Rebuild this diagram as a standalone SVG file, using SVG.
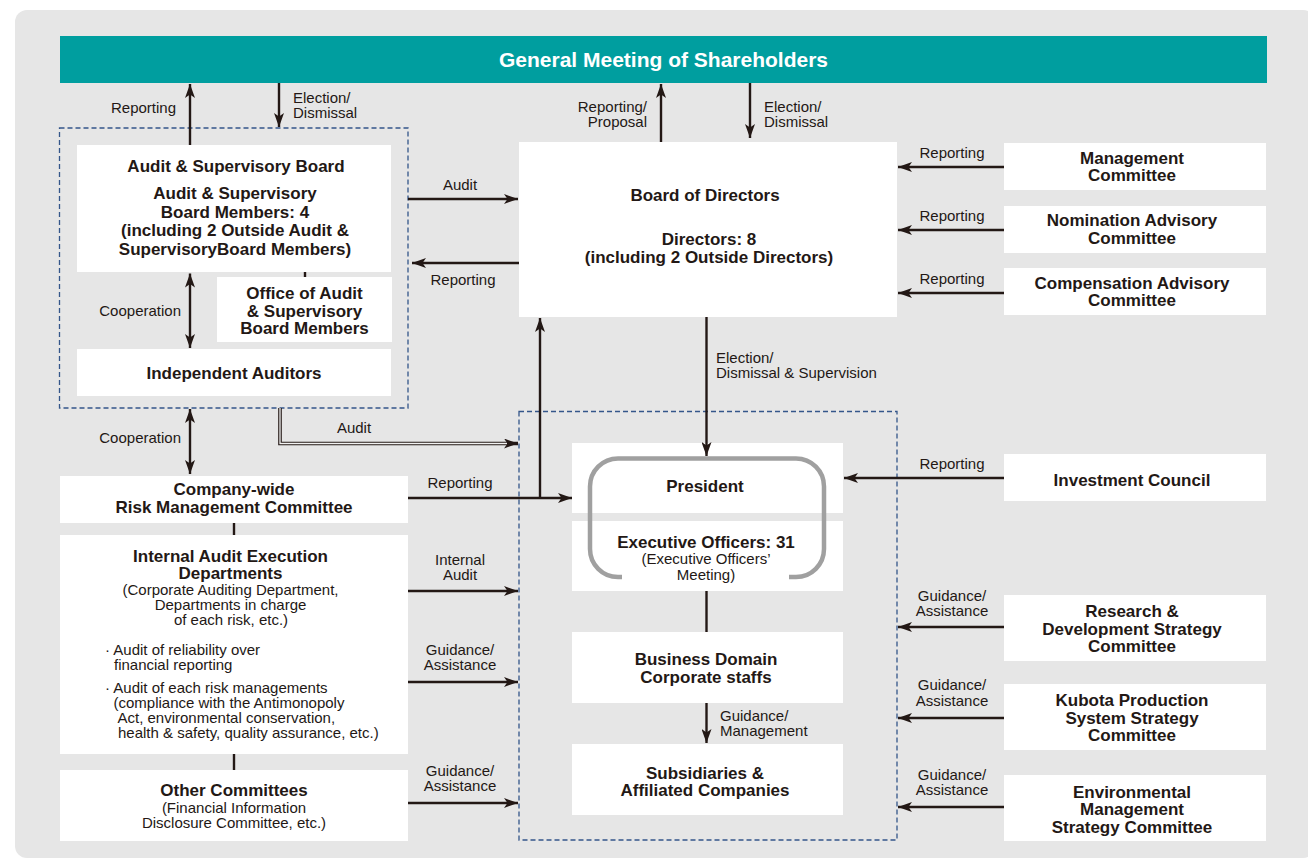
<svg xmlns="http://www.w3.org/2000/svg" width="1308" height="859" viewBox="0 0 1308 859">
<style>
text{font-family:"Liberation Sans",Arial,Helvetica,sans-serif;fill:#231815}
.t{font-size:17px;font-weight:bold;text-anchor:middle}
.s{font-size:15px;text-anchor:middle}
.l{font-size:15px}
.m{text-anchor:middle}
.e{text-anchor:end}
.box{fill:#ffffff}
.dash{fill:none;stroke:#34568a;stroke-width:1.3;stroke-dasharray:5 3}
.ln{fill:none;stroke:#231815;stroke-width:2.4}
.ar{fill:none;stroke:#231815;stroke-width:2.4;marker-end:url(#ah)}
.ar2{fill:none;stroke:#231815;stroke-width:2.4;marker-end:url(#ah);marker-start:url(#ah)}
</style>
<defs>
<marker id="ah" viewBox="0 0 14 10" refX="14" refY="5" markerWidth="14" markerHeight="10" markerUnits="userSpaceOnUse" orient="auto-start-reverse">
<path d="M0,0 L14,5 L0,10 L3.5,5 Z" fill="#231815"/>
</marker>
</defs>
<rect x="0" y="0" width="1308" height="859" fill="#ffffff"/>
<rect x="15" y="10" width="1300" height="848" rx="12" fill="#e6e6e6"/>

<g id="shareholders">
<rect x="60" y="36" width="1207" height="47" fill="#009e9f"/>
<text x="663.5" y="67" style="font-size:21px;font-weight:bold;text-anchor:middle;fill:#ffffff">General Meeting of Shareholders</text>
</g>

<g id="groups">
<rect class="dash" x="59.5" y="128" width="348.5" height="280"/>
<rect class="dash" x="519" y="411.5" width="378" height="428.5"/>
</g>

<g id="audit-board">
<rect class="box" x="77" y="145" width="314" height="127"/>
<text class="t" x="236" y="172">Audit &amp; Supervisory Board</text>
<text class="t" x="235" y="199">Audit &amp; Supervisory</text>
<text class="t" x="235" y="217.5">Board Members: 4</text>
<text class="t" x="235" y="236">(including 2 Outside Audit &amp;</text>
<text class="t" x="235" y="254.5">SupervisoryBoard Members)</text>
</g>

<g id="office-audit">
<rect class="box" x="217" y="277" width="175" height="65"/>
<text class="t" x="304.5" y="299">Office of Audit</text>
<text class="t" x="304.5" y="316.5">&amp; Supervisory</text>
<text class="t" x="304.5" y="333.5">Board Members</text>
</g>

<g id="independent-auditors">
<rect class="box" x="77" y="349" width="314" height="47"/>
<text class="t" x="234" y="379">Independent Auditors</text>
</g>

<g id="risk-committee">
<rect class="box" x="60" y="476" width="348" height="47"/>
<text class="t" x="234" y="495">Company-wide</text>
<text class="t" x="234" y="513">Risk Management Committee</text>
</g>

<g id="internal-audit">
<rect class="box" x="60" y="535" width="348" height="219"/>
<text class="t" x="230.5" y="562">Internal Audit Execution</text>
<text class="t" x="230.5" y="578.5">Departments</text>
<text class="s" x="230.5" y="595">(Corporate Auditing Department,</text>
<text class="s" x="230.5" y="610">Departments in charge</text>
<text class="s" x="231" y="625">of each risk, etc.)</text>
<text class="l" x="105" y="655">· Audit of reliability over</text>
<text class="l" x="114" y="670">financial reporting</text>
<text class="l" x="105" y="693">· Audit of each risk managements</text>
<text class="l" x="113.5" y="708">(compliance with the Antimonopoly</text>
<text class="l" x="117.5" y="723">Act, environmental conservation,</text>
<text class="l" x="118" y="738">health &amp; safety, quality assurance, etc.)</text>
</g>

<g id="other-committees">
<rect class="box" x="60" y="770" width="348" height="71"/>
<text class="t" x="234" y="796">Other Committees</text>
<text class="s" x="234" y="813">(Financial Information</text>
<text class="s" x="234" y="828">Disclosure Committee, etc.)</text>
</g>

<g id="board-of-directors">
<rect class="box" x="519" y="142" width="378" height="175"/>
<text class="t" x="705" y="201">Board of Directors</text>
<text class="t" x="709" y="245">Directors: 8</text>
<text class="t" x="709" y="263">(including 2 Outside Directors)</text>
</g>

<g id="president">
<rect class="box" x="572" y="443" width="271" height="70"/>
<text class="t" x="705" y="492">President</text>
</g>

<g id="executive-officers">
<rect class="box" x="572" y="521" width="271" height="70"/>
<text class="t" x="706" y="548">Executive Officers: 31</text>
<text class="s" x="706" y="564">(Executive Officers’</text>
<text class="s" x="706" y="580">Meeting)</text>
</g>

<g id="president-frame">
<path d="M622,577 H618 A28,28 0 0 1 590,549 V486.5 A28,28 0 0 1 618,458.5 H796 A28,28 0 0 1 824,486.5 V549 A28,28 0 0 1 796,577 H789" fill="none" stroke="#a0a0a0" stroke-width="4.5"/>
</g>

<g id="business-domain">
<rect class="box" x="572" y="632" width="271" height="71"/>
<text class="t" x="706" y="665">Business Domain</text>
<text class="t" x="706" y="683">Corporate staffs</text>
</g>

<g id="subsidiaries">
<rect class="box" x="572" y="744" width="271" height="71"/>
<text class="t" x="705" y="778.5">Subsidiaries &amp;</text>
<text class="t" x="705" y="795.5">Affiliated Companies</text>
</g>

<g id="management-committee">
<rect class="box" x="1004" y="143" width="262" height="47"/>
<text class="t" x="1132" y="163.5">Management</text>
<text class="t" x="1132" y="181">Committee</text>
</g>

<g id="nomination-committee">
<rect class="box" x="1004" y="206" width="262" height="47"/>
<text class="t" x="1132" y="226">Nomination Advisory</text>
<text class="t" x="1132" y="244">Committee</text>
</g>

<g id="compensation-committee">
<rect class="box" x="1004" y="268" width="262" height="47"/>
<text class="t" x="1132" y="288.5">Compensation Advisory</text>
<text class="t" x="1132" y="306">Committee</text>
</g>

<g id="investment-council">
<rect class="box" x="1004" y="454" width="262" height="47"/>
<text class="t" x="1132" y="486">Investment Council</text>
</g>

<g id="rd-committee">
<rect class="box" x="1004" y="595" width="262" height="66"/>
<text class="t" x="1132" y="617">Research &amp;</text>
<text class="t" x="1132" y="634.5">Development Strategy</text>
<text class="t" x="1132" y="652">Committee</text>
</g>

<g id="kps-committee">
<rect class="box" x="1004" y="684" width="262" height="66"/>
<text class="t" x="1132" y="706">Kubota Production</text>
<text class="t" x="1132" y="723.5">System Strategy</text>
<text class="t" x="1132" y="741">Committee</text>
</g>

<g id="env-committee">
<rect class="box" x="1004" y="775" width="262" height="66"/>
<text class="t" x="1132" y="797.5">Environmental</text>
<text class="t" x="1132" y="815">Management</text>
<text class="t" x="1132" y="832.5">Strategy Committee</text>
</g>

<g id="connectors">
<line class="ar" x1="190" y1="145" x2="190" y2="84"/>
<line class="ar" x1="279" y1="83" x2="279" y2="127"/>
<line class="ar" x1="408" y1="199" x2="518" y2="199"/>
<line class="ar" x1="519" y1="263" x2="412" y2="263"/>
<line class="ar" x1="661" y1="142" x2="661" y2="84"/>
<line class="ar" x1="750" y1="83" x2="750" y2="138"/>
<line class="ar" x1="1004" y1="167" x2="898" y2="167"/>
<line class="ar" x1="1004" y1="230" x2="898" y2="230"/>
<line class="ar" x1="1004" y1="293" x2="898" y2="293"/>
<line class="ln" x1="305" y1="272" x2="305" y2="277"/>
<line class="ar2" x1="190" y1="273.5" x2="190" y2="348"/>
<line class="ar2" x1="190" y1="409" x2="190" y2="474"/>
<path d="M280,408 V443.5 H518" fill="none" stroke="#231815" stroke-width="3.6" marker-end="url(#ah)"/>
<path d="M280,408 V443.5 H507" fill="none" stroke="#f2f2f2" stroke-width="1.3"/>
<line class="ar" x1="408" y1="498" x2="572" y2="498"/>
<line class="ar" x1="540" y1="498" x2="540" y2="318"/>
<line class="ln" x1="234" y1="523" x2="234" y2="535"/>
<line class="ln" x1="234" y1="754" x2="234" y2="770"/>
<line class="ar" x1="408" y1="591" x2="518" y2="591"/>
<line class="ar" x1="408" y1="682" x2="518" y2="682"/>
<line class="ar" x1="408" y1="803" x2="518" y2="803"/>
<line class="ar" x1="706.5" y1="317" x2="706.5" y2="456"/>
<line class="ln" x1="706.5" y1="591" x2="706.5" y2="632"/>
<line class="ar" x1="706.5" y1="703" x2="706.5" y2="743"/>
<line class="ar" x1="1004" y1="478" x2="844" y2="478"/>
<line class="ar" x1="1004" y1="627" x2="898" y2="627"/>
<line class="ar" x1="1004" y1="718" x2="898" y2="718"/>
<line class="ar" x1="1004" y1="807" x2="898" y2="807"/>

<text class="l e" x="176" y="112.5">Reporting</text>
<text class="l" x="293" y="103">Election/</text>
<text class="l" x="293" y="118">Dismissal</text>
<text class="l e" x="647" y="112">Reporting/</text>
<text class="l e" x="647" y="127">Proposal</text>
<text class="l" x="764" y="112">Election/</text>
<text class="l" x="764" y="127">Dismissal</text>
<text class="l m" x="460" y="190">Audit</text>
<text class="l m" x="463" y="285">Reporting</text>
<text class="l m" x="952" y="158">Reporting</text>
<text class="l m" x="952" y="221">Reporting</text>
<text class="l m" x="952" y="283.5">Reporting</text>
<text class="l e" x="181" y="316">Cooperation</text>
<text class="l" x="716" y="363">Election/</text>
<text class="l" x="716" y="378">Dismissal &amp; Supervision</text>
<text class="l e" x="181" y="443">Cooperation</text>
<text class="l m" x="354" y="433">Audit</text>
<text class="l m" x="460" y="488">Reporting</text>
<text class="l m" x="460" y="565">Internal</text>
<text class="l m" x="460" y="580">Audit</text>
<text class="l m" x="460" y="654.5">Guidance/</text>
<text class="l m" x="460" y="670">Assistance</text>
<text class="l m" x="460" y="776">Guidance/</text>
<text class="l m" x="460" y="791">Assistance</text>
<text class="l m" x="952" y="469">Reporting</text>
<text class="l m" x="952" y="601">Guidance/</text>
<text class="l m" x="952" y="616">Assistance</text>
<text class="l m" x="952" y="690">Guidance/</text>
<text class="l m" x="952" y="705.5">Assistance</text>
<text class="l m" x="952" y="780">Guidance/</text>
<text class="l m" x="952" y="795">Assistance</text>
<text class="l" x="720" y="721">Guidance/</text>
<text class="l" x="720" y="736">Management</text>
</g>
</svg>
